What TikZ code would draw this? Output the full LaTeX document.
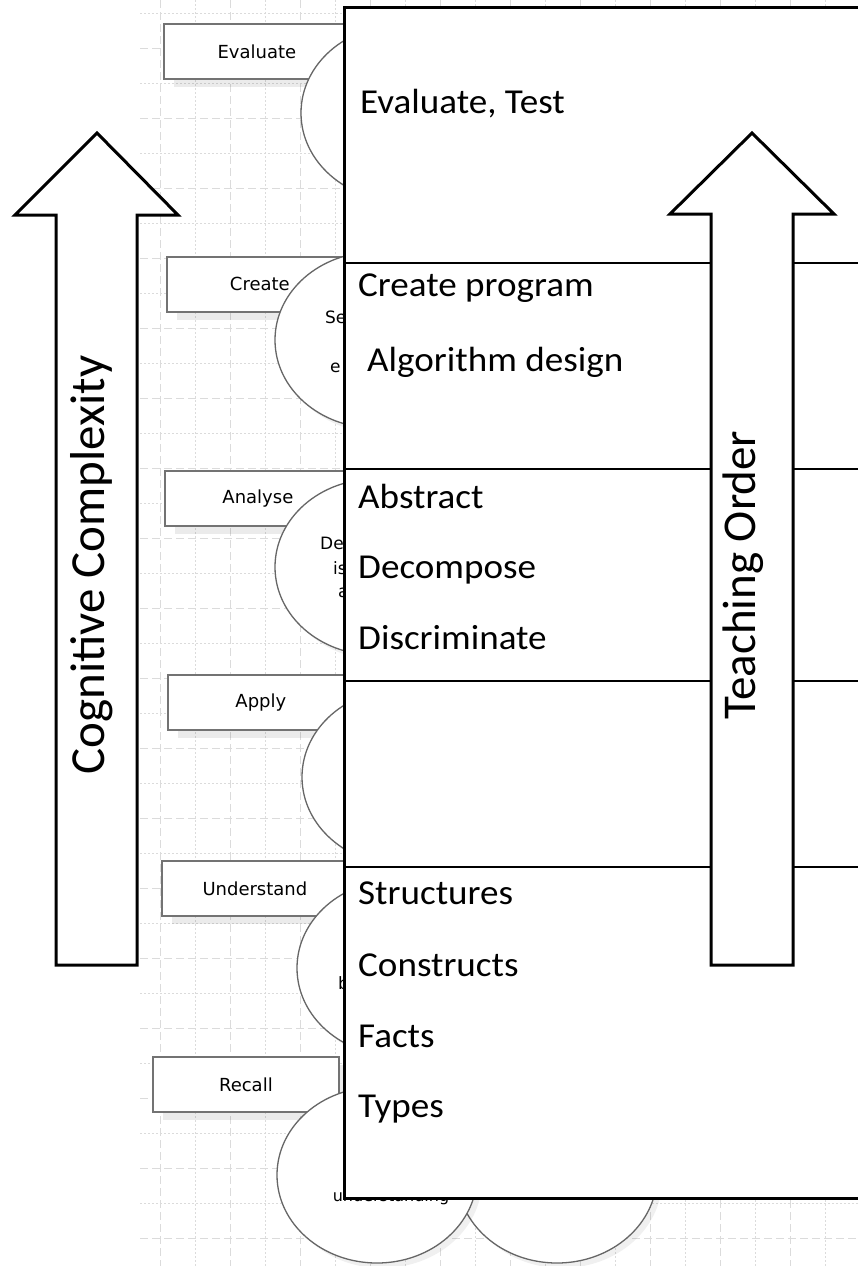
\documentclass[tikz,border=0pt]{standalone}
\usepackage{fontspec}
\setmainfont{Carlito}
\newfontfamily\boxfont{DejaVu Sans}
\usetikzlibrary{shadows,shapes.geometric}
\tikzset{
  gridline/.style={draw=black!14, line width=0.9pt},
  levelbox/.style={draw=black!55, line width=1.8pt, fill=white, anchor=north west,
    minimum width=186pt, minimum height=55pt, inner sep=0pt,
    font=\boxfont\fontsize{18}{20}\selectfont,
    drop shadow={shadow xshift=10pt, shadow yshift=-8pt, opacity=0.08, fill=black}},
  lvlellipse/.style={ellipse, draw=black!60, line width=1.3pt, fill=white,
    minimum width=200pt, minimum height=176pt, inner sep=0pt,
    drop shadow={shadow xshift=5pt, shadow yshift=-5pt, opacity=0.06, fill=black}},
  elltext/.style={anchor=west, inner sep=0pt, font=\boxfont\fontsize{17}{19}\selectfont},
  mainbox/.style={draw=black, line width=3pt, fill=white},
  divider/.style={draw=black, line width=2pt},
  blockarrow/.style={draw=black, line width=3pt, fill=white, line join=miter},
  itemtext/.style={anchor=base west, inner sep=0pt, xscale=1.06, font=\fontsize{35}{38}\selectfont},
  biglabel/.style={rotate=90, inner sep=0pt}
}
\begin{document}
\begin{tikzpicture}[x=1pt,y=-1pt]
\useasboundingbox (0,0) rectangle (858,1266);
\fill[white] (0,0) rectangle (858,1266);
% background grid
\foreach \k in {0,...,19} {
  \pgfmathsetmacro{\gx}{160+35*\k}
  \ifodd\k
    \draw[gridline, dash pattern=on 2pt off 2pt] (\gx,0) -- (\gx,1266);
  \else
    \draw[gridline, dash pattern=on 8pt off 4pt] (\gx,0) -- (\gx,1266);
  \fi
}
\foreach \k in {0,...,36} {
  \pgfmathsetmacro{\gy}{13+35*\k}
  \ifodd\k
    \draw[gridline, dash pattern=on 8pt off 4pt] (140,\gy) -- (858,\gy);
  \else
    \draw[gridline, dash pattern=on 2pt off 2pt] (140,\gy) -- (858,\gy);
  \fi
}
% level boxes
\node[levelbox] (bEval) at (163,23) {Evaluate};
\node[levelbox] (bCreate) at (166,256) {Create};
\node[levelbox] (bAnalyse) at (164,470) {Analyse};
\node[levelbox] (bApply) at (167,674) {Apply};
\node[levelbox] (bUnder) at (161,860) {Understand};
\node[levelbox] (bRecall) at (152,1056) {Recall};
% ellipses
\node[lvlellipse] (eEval) at (401,113) {};
\node[lvlellipse] (eCreate) at (375,340) {};
\node[lvlellipse] (eAnalyse) at (375,567) {};
\node[lvlellipse] (eApply) at (402,777) {};
\node[lvlellipse] (eUnder) at (397,968) {};
\node[lvlellipse] (eRecallB) at (557,1175) {};
\node[lvlellipse] (eRecallA) at (377,1175) {};
% partly visible ellipse texts
\node[elltext] (tSe) at (325,317) {Se};
\node[elltext] (tE) at (330,368) {e};
\node[elltext] (tDe) at (320,543) {De};
\node[elltext] (tIs) at (333,568) {is};
\node[elltext] (tA) at (338,593) {a};
\node[elltext] (tB) at (338,983) {b};
\node[anchor=base, inner sep=0pt, font=\boxfont\fontsize{16}{18}\selectfont] (tUnd) at (391,1201) {understanding};
% main table
\node[mainbox, anchor=north west, minimum width=560pt, minimum height=1191pt, inner sep=0pt] (table) at (343,6) {};
\draw[divider] (table.west |- 0,263) -- (900,263);
\draw[divider] (table.west |- 0,469) -- (900,469);
\draw[divider] (table.west |- 0,681) -- (900,681);
\draw[divider] (table.west |- 0,867) -- (900,867);
% texts in table
\node[itemtext] (i1) at (360,113) {Evaluate, Test};
\node[itemtext] (i2) at (358,296) {Create program};
\node[itemtext] (i3) at (367,371) {Algorithm design};
\node[itemtext] (i4) at (358,508) {Abstract};
\node[itemtext] (i5) at (358,578) {Decompose};
\node[itemtext] (i6) at (358,649) {Discriminate};
\node[itemtext] (i7) at (358,904) {Structures};
\node[itemtext] (i8) at (358,976) {Constructs};
\node[itemtext] (i9) at (358,1047) {Facts};
\node[itemtext] (i10) at (358,1117) {Types};
% block arrows
\draw[blockarrow] (56,965) -- (56,215) -- (15,215) -- (97,133) -- (178,215) -- (137,215) -- (137,965) -- cycle;
\draw[blockarrow] (711,965) -- (711,214) -- (670,214) -- (752,133) -- (834,214) -- (793,214) -- (793,965) -- cycle;
\node[biglabel, font=\fontsize{49}{54}\selectfont] (lCog) at (92,565) {Cognitive Complexity};
\node[biglabel, font=\fontsize{47}{52}\selectfont] (lTeach) at (743,575) {Teaching Order};
\end{tikzpicture}
\end{document}
